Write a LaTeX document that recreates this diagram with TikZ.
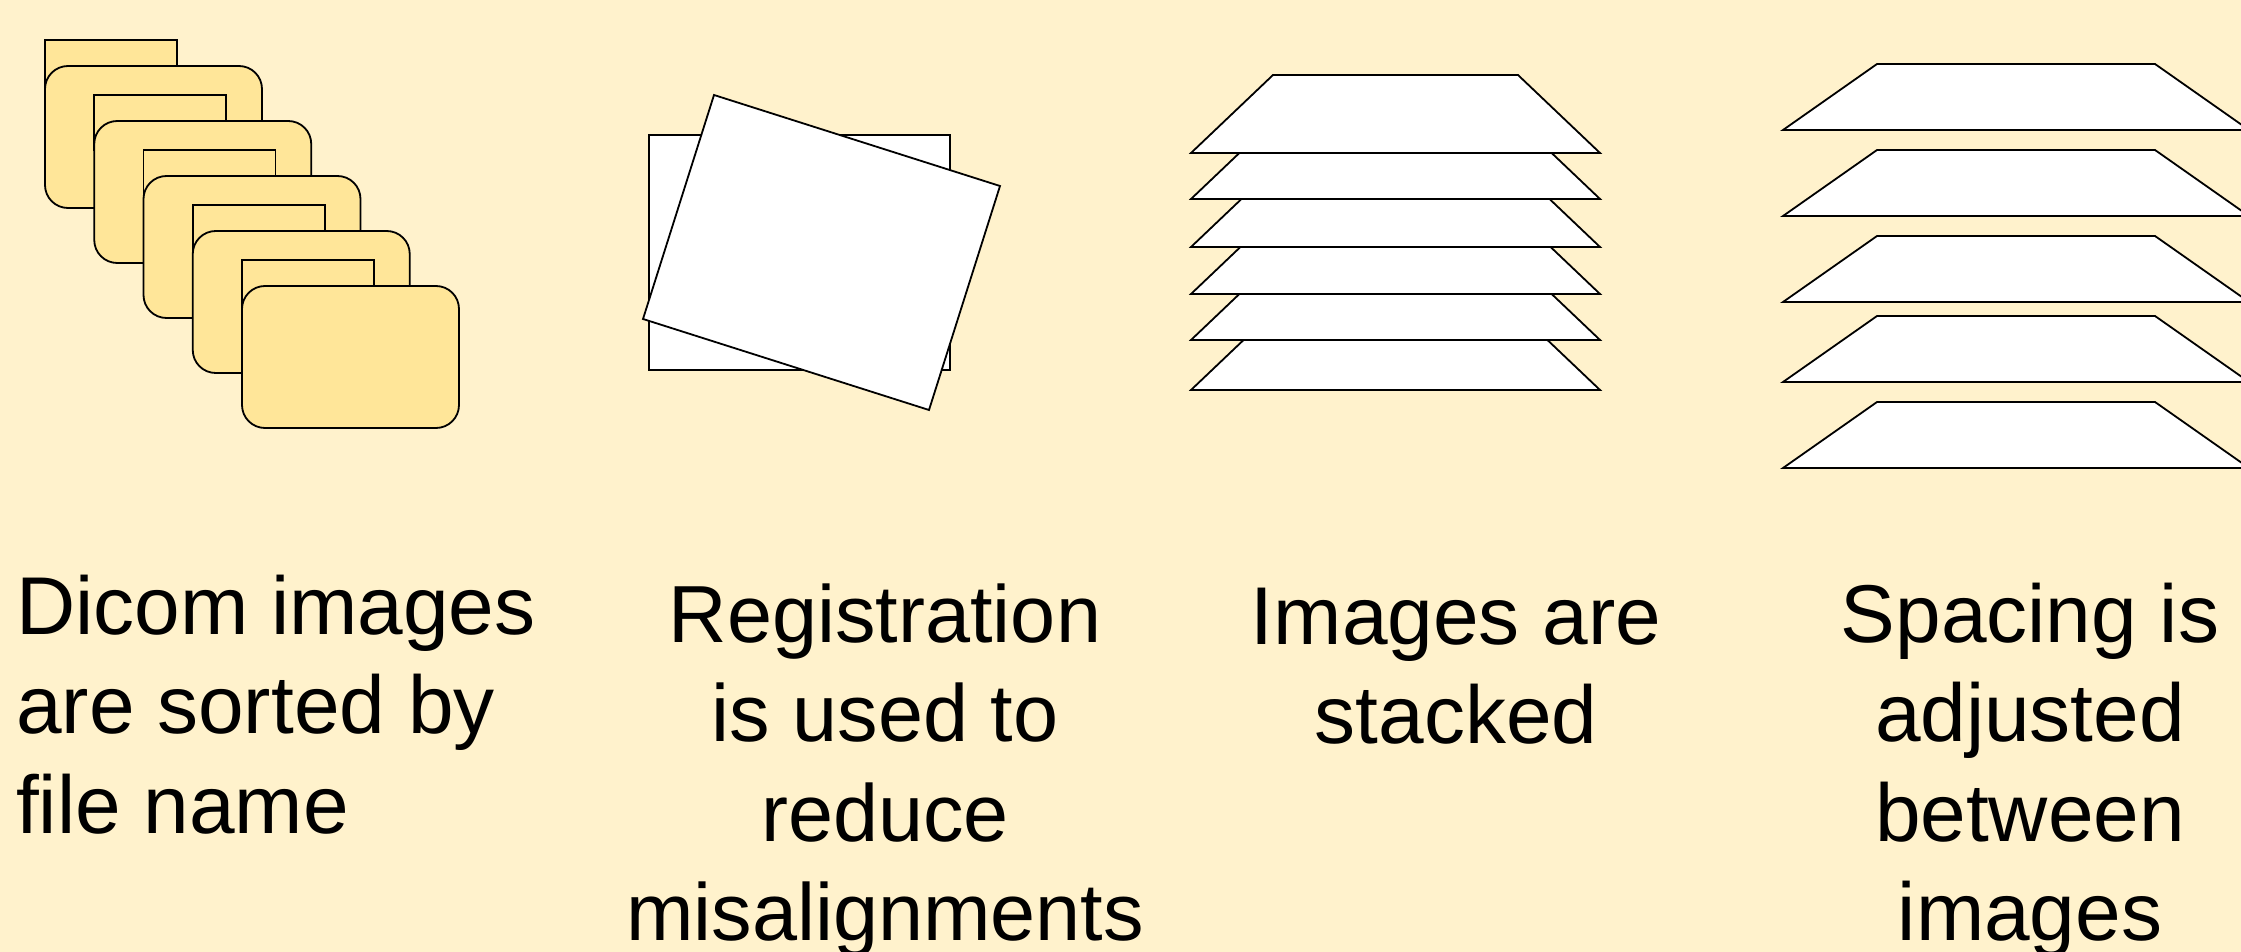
\documentclass[tikz,border=0pt]{standalone}
\usepackage{fontspec}
\setmainfont{Liberation Sans}
\definecolor{bgcol}{HTML}{FFF2CC}
\definecolor{foldercol}{HTML}{FFE699}
\tikzset{
  outl/.style={draw=black, line width=1.8pt, line join=miter},
  folderbody/.style={outl, fill=foldercol, rounded corners=23pt},
  foldertab/.style={outl, fill=foldercol},
  sheet/.style={outl, fill=white},
  lbl/.style={inner sep=0pt, font=\fontsize{82pt}{99.5pt}\selectfont},
}
\begin{document}
\begin{tikzpicture}[x=1pt, y=-1pt]
\fill[bgcol] (0,0) rectangle (2241,952);
\useasboundingbox (0,0) rectangle (2241,952);
\clip (0,0) rectangle (2241,952);

% --- folders
\foreach \i in {0,...,4}{
  \pgfmathsetmacro{\ox}{45+49.25*\i}
  \pgfmathsetmacro{\oy}{40+55*\i}
  \draw[foldertab] (\ox,\oy) rectangle ++(132,55);
  \draw[folderbody] (\ox,\oy+26) rectangle ++(217,142);
}

% --- registration
\draw[sheet] (649,135) rectangle (950,370);
\coordinate (r1) at (714,95);
\coordinate (r2) at (1000,186);
\coordinate (r3) at (929,410);
\coordinate (r4) at (643,319);
\draw[sheet] (r1) -- (r2) -- (r3) -- (r4) -- cycle;

% --- stacked
\foreach \b in {390,340,294,247,199,153}{
  \draw[sheet] (1191,\b) -- (1273,\b-78) -- (1518,\b-78) -- (1600,\b) -- cycle;
}

% --- spaced
\foreach \t in {64,150,236,316,402}{
  \draw[sheet] (1783,\t+66) -- (1877,\t) -- (2155,\t) -- (2249,\t+66) -- cycle;
}

% --- labels
\node[lbl, anchor=base west] (t1) at (16,634)
  {\begin{tabular}[t]{@{}l@{}}Dicom images\\are sorted by\\file name\end{tabular}};
\node[lbl, anchor=base, font=\fontsize{81pt}{99.5pt}\selectfont] (t2) at (885,642)
  {\begin{tabular}[t]{@{}c@{}}Registration\\is used to\\reduce\\misalignments\end{tabular}};
\node[lbl, anchor=base] (t3) at (1456,644)
  {\begin{tabular}[t]{@{}c@{}}Images are\\stacked\end{tabular}};
\node[lbl, anchor=base] (t4) at (2030,642)
  {\begin{tabular}[t]{@{}c@{}}Spacing is\\adjusted\\between\\images\end{tabular}};
\end{tikzpicture}
\end{document}
